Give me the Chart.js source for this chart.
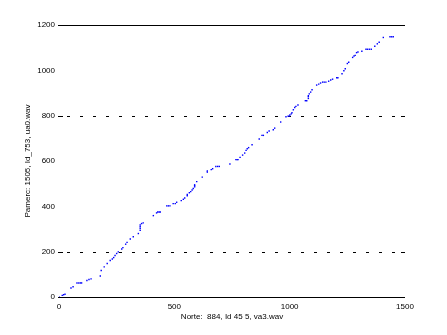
<!DOCTYPE html>
<html>
<head>
<meta charset="utf-8">
<script src="https://cdn.jsdelivr.net/npm/chart.js@4/dist/chart.umd.min.js"></script>
<style>
html,body{margin:0;padding:0;background:#fff;}
#wrap{width:447px;height:335px;position:relative;}
</style>
</head>
<body>
<div id="wrap"><canvas id="c" width="447" height="335"></canvas></div>
<script>
// Data
const xTitle = "Norte:  884, Id 45 5, va3.wav";
const yTitle = "Pamerc: 1505, Id_753, ua0.wav";
const xTicks = [0, 500, 1000, 1500];
const yTicks = [0, 200, 400, 600, 800, 1000, 1200];
const dottedGrid = [200, 800];
const solidLines = [0, 1200];

const pathX = [0,14,20,26,52,61,78,86,93,98,121,130,139,179,183,196,209,222,231,237,243,250,257,272,277,289,295,309,322,344,352,352,352,352,358,365,409,423,428,434,439,467,474,481,495,504,510,530,539,545,556,556,565,571,577,582,588,588,588,597,621,643,643,660,666,680,688,695,741,767,772,776,785,796,805,811,816,822,837,868,880,886,903,911,929,935,961,984,993,998,1001,1007,1010,1016,1022,1027,1036,1068,1074,1081,1081,1081,1085,1091,1097,1117,1126,1134,1143,1150,1157,1169,1178,1186,1204,1209,1227,1235,1241,1250,1256,1273,1279,1284,1290,1296,1313,1331,1338,1346,1354,1369,1380,1388,1406,1435,1442,1449];
const pathY = [0,7,10,12,40,45,62,62,62,62,73,77,80,93,117,133,148,161,168,174,183,192,199,212,218,233,241,256,266,280,294,302,310,318,324,327,359,371,375,375,375,402,402,402,412,412,418,425,431,437,447,452,460,465,472,479,486,491,495,509,529,551,556,562,566,576,576,576,587,606,606,606,616,626,635,647,654,659,672,697,713,713,726,732,738,745,772,795,798,798,803,808,813,826,836,841,847,866,866,876,884,888,896,904,914,935,939,944,948,948,948,952,957,961,967,967,985,998,1007,1030,1036,1057,1063,1066,1078,1081,1084,1093,1093,1093,1093,1106,1117,1124,1145,1148,1148,1148];

const points = pathX.map((x, i) => ({x: x, y: pathY[i]}));
const FONT = "'Liberation Sans', Arial, sans-serif";

const framePlugin = {
  id: 'frameLines',
  beforeDatasetsDraw(chart) {
    const ctx = chart.ctx;
    const ys = chart.scales.y;
    const area = chart.chartArea;
    ctx.save();
    ctx.strokeStyle = '#000';
    ctx.lineWidth = 1;
    solidLines.forEach(v => {
      const py = Math.round(ys.getPixelForValue(v)) + 0.5;
      ctx.beginPath();
      ctx.moveTo(area.left - 1, py);
      ctx.lineTo(area.right, py);
      ctx.stroke();
    });
    dottedGrid.forEach(v => {
      const py = Math.round(ys.getPixelForValue(v)) + 0.5;
      ctx.setLineDash([]);
      ctx.beginPath();
      ctx.moveTo(area.left - 1, py); ctx.lineTo(area.left + 4, py);
      ctx.moveTo(area.right - 4, py); ctx.lineTo(area.right, py);
      ctx.stroke();
      ctx.setLineDash([3, 10]);
      ctx.beginPath();
      ctx.moveTo(area.left + 8, py); ctx.lineTo(area.right - 6, py);
      ctx.stroke();
    });
    ctx.restore();
  }
};

new Chart(document.getElementById('c'), {
  type: 'scatter',
  data: {
    datasets: [{
      data: points,
      pointStyle: 'rect',
      pointRadius: 1,
      pointBorderWidth: 0,
      backgroundColor: '#0000ff',
      borderColor: '#0000ff',
      showLine: false
    }]
  },
  options: {
    responsive: false,
    animation: false,
    events: [],
    layout: {padding: {left: 0, right: 42, top: 25, bottom: 0}},
    plugins: {legend: {display: false}, tooltip: {enabled: false}},
    scales: {
      x: {
        type: 'linear', min: 0, max: 1500,
        afterBuildTicks: s => { s.ticks = xTicks.map(v => ({value: v})); },
        afterFit: s => { s.height = 38; },
        grid: {display: false, drawTicks: false},
        border: {display: false},
        ticks: {color: '#000', font: {family: FONT, size: 8}, padding: 5, maxRotation: 0, autoSkip: false, callback: v => String(v)},
        title: {display: true, text: xTitle, color: '#000', font: {family: FONT, size: 8}, padding: {top: 0, bottom: 13}}
      },
      y: {
        type: 'linear', min: 0, max: 1200,
        afterBuildTicks: s => { s.ticks = yTicks.map(v => ({value: v})); },
        afterFit: s => { s.width = 59; },
        grid: {display: false, drawTicks: false},
        border: {display: false},
        ticks: {color: '#000', font: {family: FONT, size: 8}, padding: 4, autoSkip: false, callback: v => String(v)},
        title: {display: true, text: yTitle, color: '#000', font: {family: FONT, size: 8}, padding: {top: 23, bottom: 0}}
      }
    }
  },
  plugins: [framePlugin]
});
</script>
</body>
</html>
